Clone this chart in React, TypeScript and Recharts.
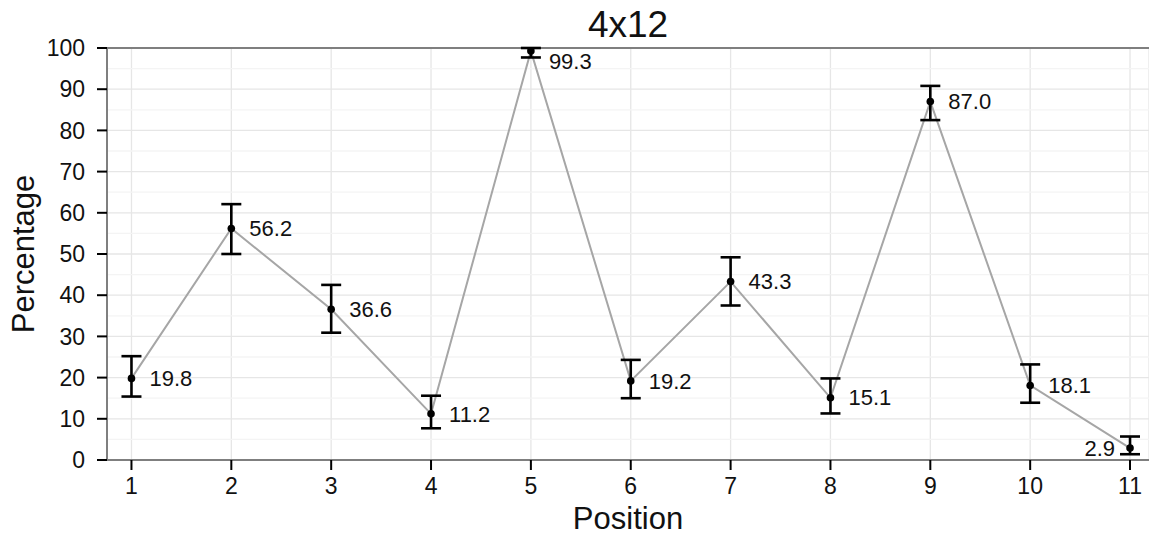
import React from "react";
import {
  ComposedChart,
  Line,
  XAxis,
  YAxis,
  CartesianGrid,
  ErrorBar,
  LabelList,
  ReferenceLine,
} from "recharts";

const positions = [1, 2, 3, 4, 5, 6, 7, 8, 9, 10, 11];
const percentages = [19.8, 56.2, 36.6, 11.2, 99.3, 19.2, 43.3, 15.1, 87.0, 18.1, 2.9];
const lowerBounds = [15.4, 50.0, 30.9, 7.7, 97.7, 15.0, 37.5, 11.3, 82.5, 13.9, 1.4];
const upperBounds = [25.2, 62.1, 42.5, 15.6, 100.0, 24.3, 49.2, 19.8, 90.8, 23.2, 5.7];
const yTicks = [0, 10, 20, 30, 40, 50, 60, 70, 80, 90, 100];
const yMinorTicks = [5, 15, 25, 35, 45, 55, 65, 75, 85, 95];

const FONT = '"Liberation Sans", Arial, Helvetica, sans-serif';
const W = 1149;
const H = 535;
const PLOT_TOP = 48;
const PLOT_LEFT = 107;
const PLOT_BOTTOM = 460;
const TICK_FONT = 23;

const chartData = positions.map((p, i) => ({
  position: p,
  pct: percentages[i],
  err: [percentages[i] - lowerBounds[i], upperBounds[i] - percentages[i]],
}));

function XTick(props: any) {
  const { x, y, payload } = props;
  return (
    <text x={x} y={y} dy="0.76em" textAnchor="middle" fill="#111" fontSize={TICK_FONT} fontFamily={FONT}>
      {payload.value}
    </text>
  );
}

function YTick(props: any) {
  const { x, y, payload } = props;
  return (
    <text x={x} y={y} dy="0.36em" textAnchor="end" fill="#111" fontSize={TICK_FONT} fontFamily={FONT}>
      {payload.value}
    </text>
  );
}

function PointLabel(props: any) {
  const { x, y, value, index } = props;
  const last = index === chartData.length - 1;
  const ty = Math.max(y, PLOT_TOP + 13);
  return (
    <text
      x={last ? x - 15 : x + 18}
      y={ty}
      dy="0.35em"
      textAnchor={last ? "end" : "start"}
      fill="#111"
      fontSize={22}
      fontFamily={FONT}
    >
      {Number(value).toFixed(1)}
    </text>
  );
}

export default function App() {
  return (
    <div style={{ position: "absolute", left: 0, top: 0, width: W, height: H, background: "#fff" }}>
      <div
        style={{
          position: "absolute",
          left: PLOT_LEFT,
          width: W - PLOT_LEFT,
          top: 6,
          textAlign: "center",
          fontFamily: FONT,
          fontSize: 37,
          lineHeight: "37px",
          color: "#111",
        }}
      >
        4x12
      </div>
      <ComposedChart
        width={W}
        height={H}
        data={chartData}
        margin={{ top: PLOT_TOP, right: 0, bottom: 0, left: 0 }}
      >
        <CartesianGrid stroke="#e6e6e6" strokeWidth={1.3} />
        {yMinorTicks.map((v) => (
          <ReferenceLine key={v} y={v} stroke="#f4f4f4" strokeWidth={1.3} />
        ))}
        <ReferenceLine y={100} stroke="#7f7f7f" strokeWidth={2} />
        <XAxis
          dataKey="position"
          type="number"
          domain={[0.755, 11.19]}
          ticks={positions}
          allowDataOverflow
          height={H - PLOT_BOTTOM}
          axisLine={{ stroke: "#7f7f7f", strokeWidth: 2 }}
          tickLine={{ stroke: "#000", strokeWidth: 2 }}
          tickSize={10}
          tickMargin={7}
          tick={<XTick />}
          label={{
            content: (p: any) => {
              const vb = p.viewBox || { x: PLOT_LEFT, y: PLOT_BOTTOM, width: W - PLOT_LEFT, height: 75 };
              return (
                <text x={vb.x + vb.width / 2} y={vb.y + 69} textAnchor="middle" fontSize={31} fontFamily={FONT} fill="#111">
                  Position
                </text>
              );
            },
          }}
        />
        <YAxis
          type="number"
          domain={[0, 100]}
          ticks={yTicks}
          width={PLOT_LEFT}
          axisLine={{ stroke: "#7f7f7f", strokeWidth: 2 }}
          tickLine={{ stroke: "#000", strokeWidth: 2 }}
          tickSize={10}
          tickMargin={12}
          tick={<YTick />}
          label={{
            content: (p: any) => {
              const vb = p.viewBox || { x: 0, y: PLOT_TOP, width: PLOT_LEFT, height: PLOT_BOTTOM - PLOT_TOP };
              const cx = vb.x + 34;
              const cy = vb.y + vb.height / 2;
              return (
                <text x={cx} y={cy} transform={`rotate(-90, ${cx}, ${cy})`} textAnchor="middle" fontSize={31} fontFamily={FONT} fill="#111">
                  Percentage
                </text>
              );
            },
          }}
        />
        <Line
          dataKey="pct"
          stroke="#a6a6a6"
          strokeWidth={2}
          isAnimationActive={false}
          dot={false}
          activeDot={false}
        />
        <Line
          dataKey="pct"
          stroke="none"
          isAnimationActive={false}
          dot={(p: any) => <circle key={p.index} cx={p.cx} cy={p.cy} r={3.8} fill="#000" />}
          activeDot={false}
        >
          <ErrorBar dataKey="err" direction="y" width={10} stroke="#000" strokeWidth={2.6} isAnimationActive={false} />
          <LabelList dataKey="pct" content={PointLabel} />
        </Line>
      </ComposedChart>
    </div>
  );
}
